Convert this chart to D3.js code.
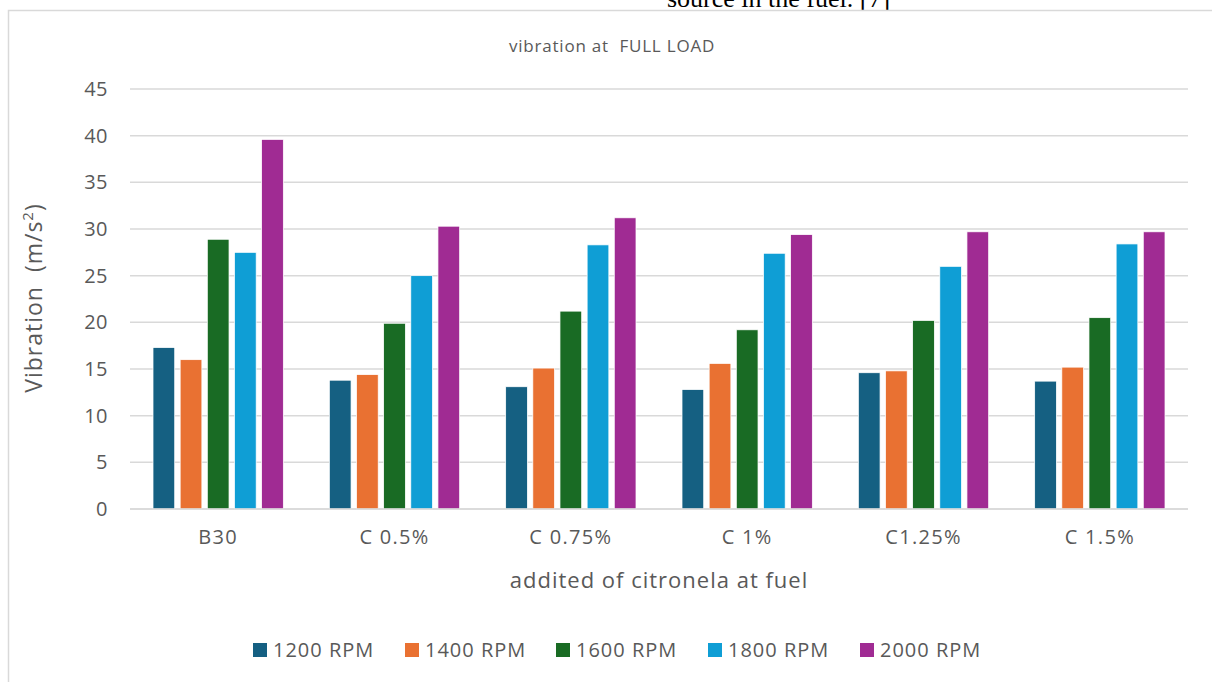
<!DOCTYPE html>
<html>
<head>
<meta charset="utf-8">
<script src="https://cdn.jsdelivr.net/npm/d3@7"></script>
<style>
  html, body { margin: 0; padding: 0; background: #fff; }
  svg { display: block; }
  text { font-family: "Open Sans", "Noto Sans", sans-serif; fill: #595959; white-space: pre; }
</style>
</head>
<body>
<svg id="chart" width="1212" height="682"></svg>
<script>
const categories = ["B30", "C 0.5%", "C 0.75%", "C 1%", "C1.25%", "C 1.5%"];
const seriesNames = ["1200 RPM", "1400 RPM", "1600 RPM", "1800 RPM", "2000 RPM"];
const rpm1200 = [17.3, 13.8, 13.1, 12.8, 14.6, 13.7];
const rpm1400 = [16.0, 14.4, 15.1, 15.6, 14.8, 15.2];
const rpm1600 = [28.9, 19.9, 21.2, 19.2, 20.2, 20.5];
const rpm1800 = [27.5, 25.0, 28.3, 27.4, 26.0, 28.4];
const rpm2000 = [39.6, 30.3, 31.2, 29.4, 29.7, 29.7];
const yTicks = [0, 5, 10, 15, 20, 25, 30, 35, 40, 45];
const colors = ["#156082", "#E97132", "#196B24", "#0F9ED5", "#A02B93"];

const seriesValues = [rpm1200, rpm1400, rpm1600, rpm1800, rpm2000];
const svg = d3.select("#chart");

// clipped paragraph text above chart
svg.append("text").attr("x", 667).attr("y", 7)
  .style("font-family", "'Liberation Serif', serif").style("font-size", "26px").style("fill", "#000")
  .text("source in the fuel. [7]");

// chart frame
svg.append("path").attr("d", "M8.5,682 V10.5 H1212")
  .attr("fill", "none").attr("stroke", "#d9d9d9").attr("stroke-width", 1.5);

const plot = { left: 130, right: 1188, top: 89, bottom: 509 };
const x0 = d3.scaleBand().domain(categories).range([plot.left, plot.right]).padding(0);
const groupPad = 23;
const x1 = d3.scaleBand().domain(seriesNames)
  .range([groupPad, x0.bandwidth() - groupPad]).paddingInner(0.2).paddingOuter(0);
const y = d3.scaleLinear().domain([0, 45]).range([plot.bottom, plot.top]);

// gridlines
svg.append("g").selectAll("line").data(yTicks).join("line")
  .attr("x1", plot.left).attr("x2", plot.right)
  .attr("y1", d => y(d)).attr("y2", d => y(d))
  .attr("stroke", "#d9d9d9").attr("stroke-width", 1.5);

// y axis labels
const yAxis = d3.axisLeft(y).tickValues(yTicks).tickSize(0).tickPadding(0);
const gy = svg.append("g").attr("transform", `translate(108,0)`).call(yAxis);
gy.select(".domain").remove();
gy.selectAll("text").style("font-size", "20px").style("fill", "#595959")
  .style("font-family", "'Open Sans', sans-serif").style("letter-spacing", "0.5px");

// bars
const groups = svg.append("g").selectAll("g").data(categories).join("g")
  .attr("transform", d => `translate(${x0(d)},0)`);
groups.selectAll("rect")
  .data((c, ci) => seriesNames.map((s, si) => ({ s, si, v: seriesValues[si][ci] })))
  .join("rect")
  .attr("x", d => x1(d.s)).attr("width", x1.bandwidth())
  .attr("y", d => y(d.v)).attr("height", d => y(0) - y(d.v))
  .attr("fill", d => colors[d.si])
  .attr("stroke", "#fff").attr("stroke-width", 0.75);

// baseline
svg.append("line").attr("x1", plot.left).attr("x2", plot.right)
  .attr("y1", y(0)).attr("y2", y(0)).attr("stroke", "#d9d9d9").attr("stroke-width", 1.5);

// x axis labels
const xAxis = d3.axisBottom(x0).tickSize(0).tickPadding(0);
const gx = svg.append("g").attr("transform", `translate(0,${plot.bottom + 21})`).call(xAxis);
gx.select(".domain").remove();
gx.selectAll("text").style("font-size", "20px").style("fill", "#595959")
  .style("font-family", "'Open Sans', sans-serif").style("letter-spacing", "1.3px");

// title
svg.append("text").attr("x", 612).attr("y", 52).attr("text-anchor", "middle")
  .style("font-size", "17px").style("letter-spacing", "0.8px").text("vibration at  FULL LOAD");

// axis titles
svg.append("text").attr("x", 659).attr("y", 588).attr("text-anchor", "middle")
  .style("font-size", "22px").style("letter-spacing", "1px").text("addited of citronela at fuel");
const yt = svg.append("text").attr("transform", "translate(42,298) rotate(-90)")
  .attr("text-anchor", "middle").style("font-size", "23px").style("letter-spacing", "1px");
yt.append("tspan").text("Vibration  (m/s");
yt.append("tspan").attr("dy", -9).style("font-size", "15px").text("2");
yt.append("tspan").attr("dy", 9).text(")");

// legend
const legendX = [253, 405, 556, 708, 860];
const lg = svg.append("g").selectAll("g").data(seriesNames).join("g")
  .attr("transform", (d, i) => `translate(${legendX[i]},643)`);
lg.append("rect").attr("width", 14).attr("height", 14).attr("fill", (d, i) => colors[i]);
lg.append("text").attr("x", 20).attr("y", 14).style("font-size", "20px")
  .style("letter-spacing", "1px").text(d => d);
</script>
</body>
</html>
